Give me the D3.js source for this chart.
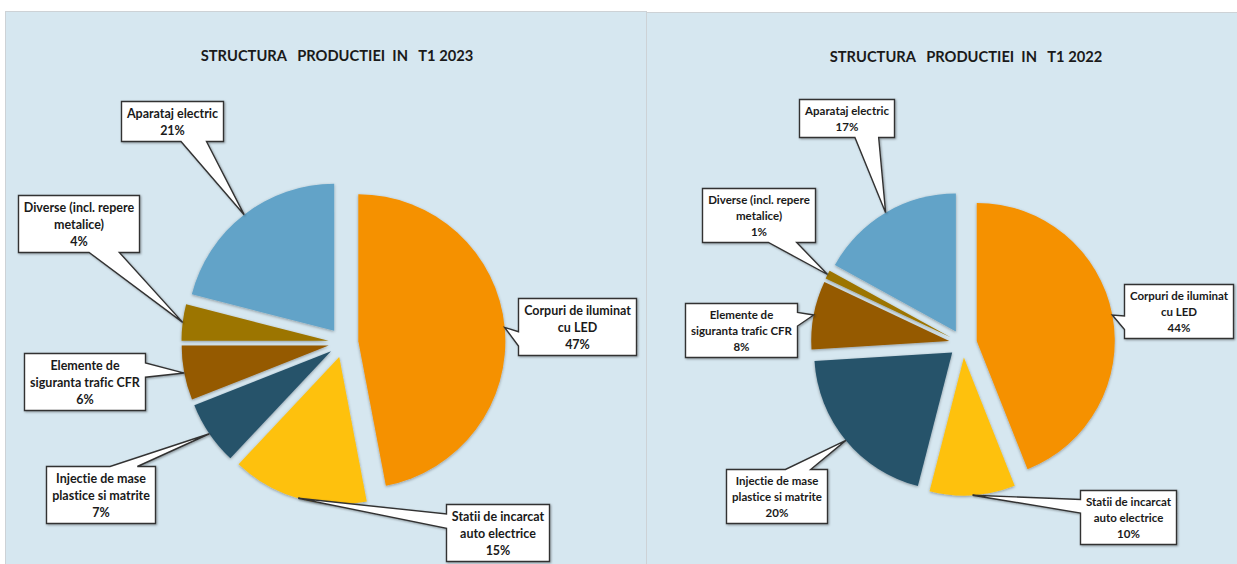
<!DOCTYPE html>
<html>
<head>
<meta charset="utf-8">
<script src="https://cdn.jsdelivr.net/npm/d3@7"></script>
<style>
  body { margin: 0; background: #fff; }
  svg { display: block; font-family: Lato, "Open Sans", sans-serif; font-variant-ligatures: none; }
</style>
</head>
<body>
<svg width="1237" height="564"></svg>
<script>
// categorii (textul din etichete, pe randuri)
const categories = [
    ["Corpuri de iluminat", "cu LED"],
    ["Statii de incarcat", "auto electrice"],
    ["Injectie de mase", "plastice si matrite"],
    ["Elemente de", "siguranta trafic CFR"],
    ["Diverse (incl. repere", "metalice)"],
    ["Aparataj electric"]
];
const values2023 = [47, 15, 7, 6, 4, 21];
const values2022 = [44, 10, 20, 8, 1, 17];
const titles = ["STRUCTURA   PRODUCTIEI  IN   T1 2023", "STRUCTURA   PRODUCTIEI  IN   T1 2022"];

const colors = ["#F59100", "#FEC10D", "#27536B", "#955A00", "#9C7400", "#62A3C8"];

// asezarea celor doua panouri
const panels = [
    { x: 5.5, y: 11.5, w: 641, h: 560, cx: 343.4, cy: 342.7, r: 147, explode: 15,
      titleX: 337, titleY: 61, fontSize: 12.5, lineH: 17,
      boxes: [[577, 326], [497, 532], [100, 494], [84, 381], [78, 223], [172, 121]] },
    { x: 646.5, y: 12.5, w: 600, h: 560, cx: 963, cy: 343.5, r: 138, explode: 14,
      titleX: 966, titleY: 62, fontSize: 11.5, lineH: 16,
      boxes: [[1178, 311], [1128, 517], [776, 496], [741, 330], [758, 215], [846, 118]] }
];
const datasets = [values2023, values2022];

const svg = d3.select("svg");

const defs = svg.append("defs");
const sh = defs.append("filter").attr("id", "pieShadow")
    .attr("x", "-20%").attr("y", "-20%").attr("width", "140%").attr("height", "140%");
sh.append("feDropShadow").attr("dx", 0).attr("dy", 1).attr("stdDeviation", 1.6)
    .attr("flood-color", "#000").attr("flood-opacity", 0.35);
const bs = defs.append("filter").attr("id", "boxShadow")
    .attr("x", "-10%").attr("y", "-10%").attr("width", "130%").attr("height", "130%");
bs.append("feDropShadow").attr("dx", 1).attr("dy", 1).attr("stdDeviation", 0.8)
    .attr("flood-color", "#000").attr("flood-opacity", 0.35);

// callout ca in Excel (wedgeRectCallout)
function callout(b, tip) {
    const x0 = b.x, y0 = b.y, x1 = b.x + b.w, y1 = b.y + b.h;
    const dx = (tip[0] - (b.x + b.w / 2)) / b.w;
    const dy = (tip[1] - (b.y + b.h / 2)) / b.h;
    const t = `L${tip[0]},${tip[1]}`;
    if (Math.abs(dx) > Math.abs(dy)) {
        const ya = dy < 0 ? y0 + b.h * 2 / 12 : y0 + b.h * 7 / 12;
        const yb = dy < 0 ? y0 + b.h * 5 / 12 : y0 + b.h * 10 / 12;
        if (dx > 0) return `M${x0},${y0}L${x1},${y0}L${x1},${ya}${t}L${x1},${yb}L${x1},${y1}L${x0},${y1}Z`;
        return `M${x0},${y0}L${x1},${y0}L${x1},${y1}L${x0},${y1}L${x0},${yb}${t}L${x0},${ya}Z`;
    } else {
        const xa = dx < 0 ? x0 + b.w * 2 / 12 : x0 + b.w * 7 / 12;
        const xb = dx < 0 ? x0 + b.w * 5 / 12 : x0 + b.w * 10 / 12;
        if (dy > 0) return `M${x0},${y0}L${x1},${y0}L${x1},${y1}L${xb},${y1}${t}L${xa},${y1}L${x0},${y1}Z`;
        return `M${x0},${y0}L${xa},${y0}${t}L${xb},${y0}L${x1},${y0}L${x1},${y1}L${x0},${y1}Z`;
    }
}

panels.forEach((p, k) => {
    svg.append("rect")
        .attr("x", p.x).attr("y", p.y).attr("width", p.w).attr("height", p.h)
        .attr("fill", "#D6E7F0").attr("stroke", "#CDD2D6").attr("stroke-width", 1);

    svg.append("text")
        .attr("x", p.titleX).attr("y", p.titleY)
        .attr("text-anchor", "middle")
        .style("white-space", "pre")
        .style("font-size", "14.7px").style("font-weight", "bold")
        .attr("fill", "#1a1a1a")
        .text(titles[k]);

    const rows = datasets[k].map((v, i) => ({ value: v, lines: categories[i], color: colors[i], box: p.boxes[i] }));
    const pie = d3.pie().sort(null).value(d => d.value)(rows);
    const arc = d3.arc().innerRadius(0).outerRadius(p.r);

    const g = svg.append("g").attr("transform", `translate(${p.cx},${p.cy})`);
    g.selectAll("path.slice")
        .data(pie)
        .enter()
        .append("path")
        .attr("class", "slice")
        .attr("filter", "url(#pieShadow)")
        .attr("fill", d => d.data.color)
        .attr("transform", d => {
            const m = (d.startAngle + d.endAngle) / 2;
            return `translate(${p.explode * Math.sin(m)},${-p.explode * Math.cos(m)})`;
        })
        .attr("d", arc);

    pie.forEach(d => {
        const m = (d.startAngle + d.endAngle) / 2;
        const tip = [p.cx + (p.r + p.explode) * Math.sin(m), p.cy - (p.r + p.explode) * Math.cos(m)];
        const lines = d.data.lines.concat([d.data.value + "%"]);

        const lg = svg.append("g");
        const path = lg.append("path");
        const txt = lg.append("g");
        let maxW = 0;
        lines.forEach((ln, i) => {
            const t = txt.append("text")
                .attr("text-anchor", "middle")
                .attr("dominant-baseline", "central")
                .style("font-size", p.fontSize + "px").style("font-weight", "bold")
                .attr("fill", "#1a1a1a")
                .text(ln);
            maxW = Math.max(maxW, t.node().getComputedTextLength());
        });
        const bw = Math.round(maxW + 11), bh = lines.length * p.lineH + 6;
        const b = { x: Math.round(d.data.box[0] - bw / 2) + 0.5, y: Math.round(d.data.box[1] - bh / 2) + 0.5, w: bw, h: bh };
        txt.selectAll("text")
            .attr("x", b.x + bw / 2)
            .attr("y", (_, i) => b.y + 3 + (i + 0.5) * p.lineH);
        path.attr("d", callout(b, tip))
            .attr("fill", "#fff")
            .attr("stroke", "#333")
            .attr("stroke-width", 1.4)
            .attr("stroke-linejoin", "miter")
            .attr("filter", "url(#boxShadow)");
    });
});
</script>
</body>
</html>
